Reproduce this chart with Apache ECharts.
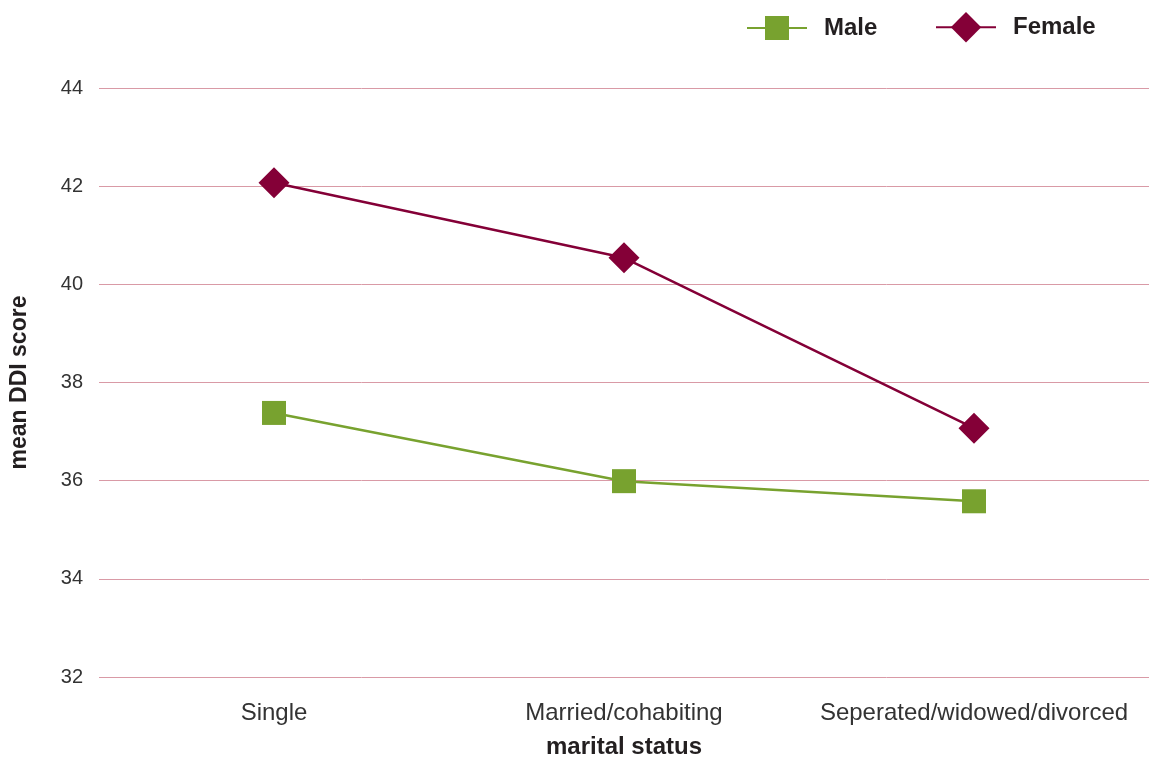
<!DOCTYPE html>
<html>
<head>
<meta charset="utf-8">
<title>mean DDI score by marital status</title>
<script src="https://cdn.jsdelivr.net/npm/echarts@6/dist/echarts.min.js"></script>
<style>
  html, body { margin: 0; padding: 0; background: #ffffff; }
  #chart { width: 1149px; height: 764px; }
</style>
</head>
<body>
<div id="chart"></div>
<script>
// Marital status categories on the x axis
const categories = ['Single', 'Married/cohabiting', 'Seperated/widowed/divorced'];

// Mean DDI score per group
const maleScores = [37.38, 35.99, 35.58];
const femaleScores = [42.07, 40.54, 37.07];

// Value axis range
const yMin = 32;
const yMax = 44;
const yStep = 2;

const FONT = '"Liberation Sans", Arial, Helvetica, sans-serif';
const MALE_COLOR = '#78a22f';
const FEMALE_COLOR = '#840037';

const legendText = {
  fontFamily: FONT, fontSize: 24, fontWeight: 'bold', color: '#231f20',
  padding: [0, 0, 0, 12]
};

const chart = echarts.init(document.getElementById('chart'), null, { renderer: 'canvas' });

chart.setOption({
  animation: false,
  backgroundColor: '#ffffff',
  textStyle: { fontFamily: FONT },
  // one legend per series so each marker keeps its own size
  legend: [
    {
      left: 746,
      top: 16,
      padding: 0,
      itemWidth: 60,
      itemHeight: 30,
      textStyle: legendText,
      data: ['Male']
    },
    {
      left: 935,
      top: 12,
      padding: 0,
      itemWidth: 60,
      itemHeight: 38,
      textStyle: legendText,
      data: ['Female']
    }
  ],
  grid: {
    left: 98,
    top: 88,
    width: 1056,
    height: 595,
    containLabel: false
  },
  xAxis: {
    type: 'category',
    data: categories,
    boundaryGap: true,
    axisLine: { show: false },
    axisTick: { show: false },
    axisLabel: { fontFamily: FONT, fontSize: 24, color: '#333333', margin: 24, interval: 0, hideOverlap: false },
    name: 'marital status',
    nameLocation: 'middle',
    nameGap: 58,
    nameTextStyle: { fontFamily: FONT, fontSize: 24, fontWeight: 'bold', color: '#231f20' }
  },
  yAxis: {
    type: 'value',
    min: yMin,
    max: yMax,
    interval: yStep,
    axisLine: { show: false },
    axisTick: { show: false },
    splitLine: { lineStyle: { color: '#d99aa6', width: 1 } },
    axisLabel: { fontFamily: FONT, fontSize: 20, color: '#333333', margin: 16 },
    name: 'mean DDI score',
    nameLocation: 'middle',
    nameRotate: 90,
    nameGap: 68,
    nameTextStyle: { fontFamily: FONT, fontSize: 23, fontWeight: 'bold', color: '#231f20' }
  },
  series: [
    {
      name: 'Male',
      type: 'line',
      data: maleScores,
      symbol: 'rect',
      symbolSize: 24,
      color: MALE_COLOR,
      lineStyle: { color: MALE_COLOR, width: 2.5 },
      itemStyle: { color: MALE_COLOR },
      z: 3
    },
    {
      name: 'Female',
      type: 'line',
      data: femaleScores,
      symbol: 'diamond',
      symbolSize: 31,
      color: FEMALE_COLOR,
      lineStyle: { color: FEMALE_COLOR, width: 2.5 },
      itemStyle: { color: FEMALE_COLOR },
      z: 4
    }
  ]
});
</script>
</body>
</html>
